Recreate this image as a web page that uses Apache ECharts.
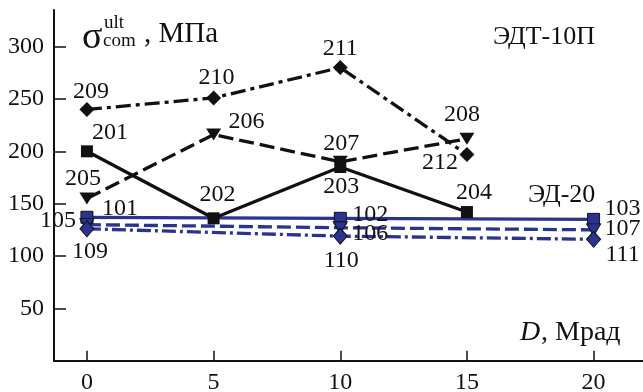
<!DOCTYPE html>
<html>
<head>
<meta charset="utf-8">
<script src="https://cdn.jsdelivr.net/npm/echarts@6/dist/echarts.min.js"></script>
<style>
  html, body { margin: 0; padding: 0; background: #fff; }
  #chart { width: 643px; height: 392px; }
</style>
</head>
<body>
<div id="chart"></div>
<script>
// Irradiation dose, Mrad
const doseTicks = [0, 5, 10, 15, 20];
const stressTicks = [50, 100, 150, 200, 250, 300];

// ЭДТ-10П samples (dose 0..15)
const edtDose = [0, 5, 10, 15];
const edtSolidIds = ['201', '202', '203', '204'];
const edtSolid = [200, 136, 185, 142];
const edtDashIds = ['205', '206', '207', '208'];
const edtDash = [155, 216, 190, 212];
const edtDashDotIds = ['209', '210', '211', '212'];
const edtDashDot = [240, 251, 280, 197];

// ЭД-20 samples (dose 0, 10, 20)
const edDose = [0, 10, 20];
const edSolidIds = ['101', '102', '103'];
const edSolid = [137, 136, 135];
const edDashIds = ['105', '106', '107'];
const edDash = [130, 127, 125];
const edDashDotIds = ['109', '110', '111'];
const edDashDot = [126, 119, 116];

// label offsets (px) around each marker
const labelOffsets = {
  '201': [23, -19], '202': [4, -24], '203': [1, 20], '204': [7, -19],
  '205': [-4, -20], '206': [33, -13], '207': [1, -18], '208': [-5, -24],
  '209': [4, -18], '210': [3, -20], '211': [0, -19], '212': [-27, 8],
  '101': [33, -9], '102': [30, -4], '103': [29, -11],
  '105': [-29, -4], '106': [30, 6], '107': [29, -1],
  '109': [3, 23], '110': [1, 25], '111': [29, 15]
};

const SERIF = '"Liberation Serif", "DejaVu Serif", serif';
const BLACK = '#111';
const NAVY = '#2a3390';

function points(xs, ys, ids) {
  return ys.map((y, i) => ({
    value: [xs[i], y],
    name: ids[i],
    label: { offset: labelOffsets[ids[i]] }
  }));
}

function makeSeries(xs, ys, ids, color, dash, symbol, size, rotate, fill, border) {
  return {
    type: 'line',
    data: points(xs, ys, ids),
    symbol: symbol,
    symbolSize: size,
    symbolRotate: rotate,
    showAllSymbol: true,
    lineStyle: { color: color, width: 3.3, type: dash, cap: 'butt' },
    itemStyle: { color: fill, borderColor: border, borderWidth: border ? 1 : 0, opacity: 1 },
    label: {
      show: true,
      position: 'inside',
      formatter: p => p.name,
      fontFamily: SERIF,
      fontSize: 24,
      color: BLACK,
      align: 'center',
      verticalAlign: 'middle'
    },
    emphasis: { disabled: true },
    animation: false,
    z: 3
  };
}

const chart = echarts.init(document.getElementById('chart'), null, { renderer: 'canvas' });

chart.setOption({
  backgroundColor: '#fff',
  animation: false,
  grid: { left: 54, top: 10, right: 0, bottom: 31.3, outerBoundsMode: 'none', containLabel: false },
  xAxis: {
    type: 'value',
    min: -1.3,
    max: 21.95,
    axisLine: { show: true, onZero: false, lineStyle: { color: BLACK, width: 2 } },
    axisTick: { show: true, inside: true, length: 10, customValues: doseTicks, lineStyle: { color: BLACK, width: 1.5 } },
    axisLabel: { customValues: doseTicks, fontFamily: SERIF, fontSize: 24, color: BLACK, margin: 10 },
    splitLine: { show: false }
  },
  yAxis: {
    type: 'value',
    min: 0,
    max: 335,
    axisLine: { show: true, onZero: false, lineStyle: { color: BLACK, width: 2 } },
    axisTick: { show: true, inside: true, length: 12, customValues: stressTicks, lineStyle: { color: BLACK, width: 1.5 } },
    axisLabel: { customValues: stressTicks, fontFamily: SERIF, fontSize: 24, color: BLACK, margin: 10 },
    splitLine: { show: false }
  },
  series: [
    makeSeries(edDose, edSolid, edSolidIds, NAVY, 'solid', 'rect', 12, 0, NAVY, BLACK),
    makeSeries(edDose, edDash, edDashIds, NAVY, [14, 5], 'triangle', [14, 12], 180, NAVY, BLACK),
    makeSeries(edDose, edDashDot, edDashDotIds, NAVY, [14, 4, 3, 4], 'diamond', [14, 16], 0, NAVY, BLACK),
    makeSeries(edtDose, edtSolid, edtSolidIds, BLACK, 'solid', 'rect', 12, 0, BLACK, null),
    makeSeries(edtDose, edtDash, edtDashIds, BLACK, [15, 6], 'triangle', [15, 12], 180, BLACK, null),
    makeSeries(edtDose, edtDashDot, edtDashDotIds, BLACK, [15, 5, 4, 5], 'diamond', [15, 15], 0, BLACK, null)
  ],
  graphic: [
    { type: 'text', left: 82, top: 19, style: { text: 'σ', font: '38px ' + SERIF, fill: BLACK } },
    { type: 'text', left: 104, top: 14, style: { text: 'ult', font: '19px ' + SERIF, fill: BLACK } },
    { type: 'text', left: 103, top: 32, style: { text: 'com', font: '19px ' + SERIF, fill: BLACK } },
    { type: 'text', left: 144, top: 20, style: { text: ', МПа', font: '29px ' + SERIF, fill: BLACK } },
    { type: 'text', left: 493, top: 24, style: { text: 'ЭДТ-10П', font: '26px ' + SERIF, fill: BLACK } },
    { type: 'text', left: 528, top: 182, style: { text: 'ЭД-20', font: '26px ' + SERIF, fill: BLACK } },
    { type: 'text', left: 520, top: 319, style: { text: 'D', font: 'italic 28px ' + SERIF, fill: BLACK } },
    { type: 'text', left: 541, top: 319, style: { text: ', Мрад', font: '28px ' + SERIF, fill: BLACK } }
  ]
});
</script>
</body>
</html>
